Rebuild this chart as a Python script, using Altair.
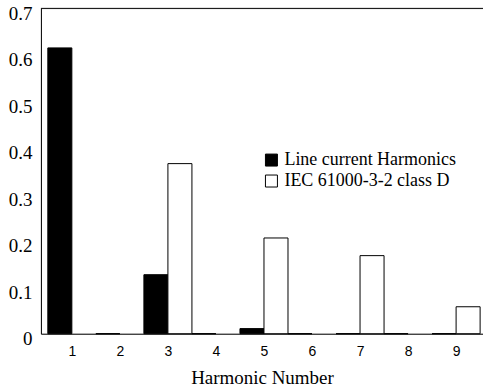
import altair as alt
import pandas as pd

harmonics = [1, 2, 3, 4, 5, 6, 7, 8, 9]
line_current = [0.615, 0.0, 0.127, 0.0, 0.011, 0.0, 0.0, 0.0, 0.0]
iec_limit = [0.0, 0.0, 0.366, 0.0, 0.206, 0.0, 0.168, 0.0, 0.058]
series_names = ["Line current Harmonics", "IEC 61000-3-2 class D"]
y_ticks = [0, 0.1, 0.2, 0.3, 0.4, 0.5, 0.6, 0.7]

rows = []
for h, v in zip(harmonics, line_current):
    rows.append({"harmonic": h, "series": series_names[0], "order": 0, "value": v})
for h, v in zip(harmonics, iec_limit):
    if v > 0:
        rows.append({"harmonic": h, "series": series_names[1], "order": 1, "value": v})
df = pd.DataFrame(rows)

SERIF = "Liberation Serif"
SANS = "Liberation Sans"

bars = alt.Chart(df).transform_calculate(
    x0="datum.harmonic - 0.5 + 0.5 * datum.order",
    x1="datum.harmonic + 0.5 * datum.order",
).mark_bar(stroke="black", strokeWidth=1, opacity=1).encode(
    x=alt.X("x0:Q",
            scale=alt.Scale(domain=[0.356, 9.56], nice=False, zero=False),
            axis=alt.Axis(values=harmonics, format="d", title="Harmonic Number",
                          grid=False, ticks=False, tickSize=0,
                          labelFont=SANS, labelFontSize=14, labelColor="black",
                          labelBaseline="middle", labelPadding=18,
                          titleFont=SERIF, titleFontSize=19, titleFontWeight="normal",
                          titleColor="black", titleBaseline="alphabetic", titleY=50,
                          domainColor="black", domainWidth=1)),
    x2="x1:Q",
    y=alt.Y("value:Q",
            scale=alt.Scale(domain=[0, 0.7], nice=False),
            axis=alt.Axis(values=y_ticks, title=None, grid=False, ticks=False, tickSize=0,
                          labelExpr="datum.value == 0 ? '0' : format(datum.value, '.1f')",
                          labelFont=SERIF, labelFontSize=19, labelColor="black",
                          labelPadding=9, labelOffset=5,
                          domainColor="black", domainWidth=1)),
    y2=alt.datum(0),
    fill=alt.Fill("series:N",
                  scale=alt.Scale(domain=series_names, range=["black", "white"]),
                  legend=alt.Legend(title=None, orient="none", legendX=222, legendY=143,
                                    symbolType="square", symbolSize=144,
                                    symbolStrokeColor="black", symbolStrokeWidth=1,
                                    symbolOpacity=1,
                                    labelFont=SERIF, labelFontSize=18, labelColor="black",
                                    labelLimit=0, labelOffset=4, rowPadding=3, padding=0)),
)

top = alt.Chart(pd.DataFrame({"v": [0.7]})).mark_rule(color="black", strokeWidth=1).encode(
    y=alt.Y("v:Q")
)

chart = alt.layer(bars, top).properties(
    width=443, height=326,
    autosize=alt.AutoSizeParams(type="none"),
    padding={"left": 41, "top": 8, "right": 0, "bottom": 58},
).configure_view(stroke=None).configure(background="white").configure_legend(
    labelFont=SERIF
).configure_axisY(labelFont=SERIF)

chart.save("out.html", embed_options={"renderer": "svg", "actions": False})
